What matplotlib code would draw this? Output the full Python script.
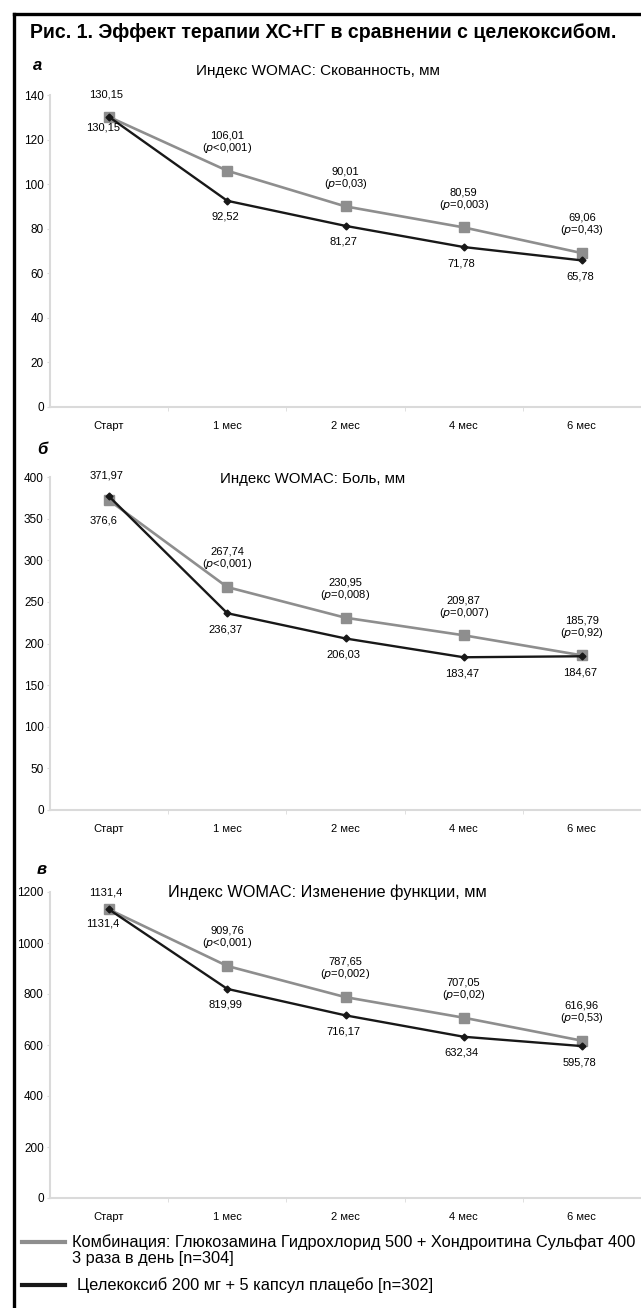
import matplotlib
matplotlib.use("Agg")
from matplotlib import pyplot as plt
from matplotlib.lines import Line2D

plt.rcParams['font.family'] = ['Liberation Sans', 'DejaVu Sans']

W, H = 641, 1308

categories = ['Старт', '1 мес', '2 мес', '4 мес', '6 мес']

# а: скованность
stiff_combo = [130.15, 106.01, 90.01, 80.59, 69.06]
stiff_celec = [130.15, 92.52, 81.27, 71.78, 65.78]
stiff_p = ['<0,001', '=0,03', '=0,003', '=0,43']

# б: боль
pain_combo = [371.97, 267.74, 230.95, 209.87, 185.79]
pain_celec = [376.6, 236.37, 206.03, 183.47, 184.67]
pain_p = ['<0,001', '=0,008', '=0,007', '=0,92']

# в: изменение функции
func_combo = [1131.4, 909.76, 787.65, 707.05, 616.96]
func_celec = [1131.4, 819.99, 716.17, 632.34, 595.78]
func_p = ['<0,001', '=0,002', '=0,02', '=0,53']

legend_combo = 'Комбинация: Глюкозамина Гидрохлорид 500 + Хондроитина Сульфат 400'
legend_combo2 = '3 раза в день [n=304]'
legend_celec = 'Целекоксиб 200 мг + 5 капсул плацебо [n=302]'

GRAY = '#8e8e8e'
DARK = '#181818'
AXC = '#dadada'


def px(x, y):
    # pixel position (from top left) -> figure fraction
    return x / W, 1 - y / H


def fmt(v):
    s = ('%.2f' % v).rstrip('0').rstrip('.')
    return s.replace('.', ',')


def fit(t, target):
    # scale font so that the text is target pixels wide
    r = fig.canvas.get_renderer()
    w = t.get_window_extent(r).width
    t.set_fontsize(t.get_fontsize() * target / w)


def panel(ax, combo, celec, pvals, ymax, step, up0, down0):
    x = range(len(categories))
    ax.plot(x, combo, color=GRAY, lw=1.9, marker='s', ms=6.5, zorder=2)
    ax.plot(x, celec, color=DARK, lw=1.7, marker='D', ms=3.5, zorder=3)
    ax.set_xlim(-0.5, 4.5)
    ax.set_ylim(0, ymax)
    ax.set_yticks(range(0, ymax + 1, step))
    ax.set_xticks(list(x))
    ax.set_xticklabels(categories)
    ax.set_xticks([0.5, 1.5, 2.5, 3.5], minor=True)
    ax.tick_params(axis='x', which='major', length=0, pad=10, labelsize=8)
    ax.tick_params(axis='x', which='minor', length=3, color=AXC)
    ax.tick_params(axis='y', length=2.5, color=AXC, labelsize=8.5, pad=2)
    for s in ['top', 'right']:
        ax.spines[s].set_visible(False)
    for s in ['left', 'bottom']:
        ax.spines[s].set_color(AXC)
        ax.spines[s].set_linewidth(1.5)

    top = max(combo[0], celec[0])
    low = min(combo[0], celec[0])
    ax.annotate(fmt(combo[0]), (0, top), xytext=(-3, up0), textcoords='offset pixels',
                ha='center', va='center', fontsize=8)
    ax.annotate(fmt(celec[0]), (0, low), xytext=(-6, -down0), textcoords='offset pixels',
                ha='center', va='center', fontsize=8)
    for i in range(1, len(categories)):
        ax.annotate(fmt(combo[i]) + '\n(' + r'$\it{p}$' + pvals[i - 1] + ')', (i, combo[i]),
                    xytext=(0, 28), textcoords='offset pixels',
                    ha='center', va='center', fontsize=8, linespacing=1.05)
        ax.annotate(fmt(celec[i]), (i, celec[i]), xytext=(-2, -16), textcoords='offset pixels',
                    ha='center', va='center', fontsize=8)


fig = plt.figure(figsize=(W / 100, H / 100), dpi=100)

ax1 = fig.add_axes([50 / W, 1 - 407 / H, 591 / W, 312 / H])
panel(ax1, stiff_combo, stiff_celec, stiff_p, 140, 20, 22, 11)

ax2 = fig.add_axes([50 / W, 1 - 810 / H, 591 / W, 333 / H])
panel(ax2, pain_combo, pain_celec, pain_p, 400, 50, 21, 20)

ax3 = fig.add_axes([50 / W, 1 - 1198 / H, 591 / W, 306 / H])
panel(ax3, func_combo, func_celec, func_p, 1200, 200, 17, 14)

# chart titles
t = fig.text(*px(318, 71), 'Индекс WOMAC: Скованность, мм', ha='center', va='center', fontsize=10)
fit(t, 245)
t = fig.text(*px(313, 479), 'Индекс WOMAC: Боль, мм', ha='center', va='center', fontsize=10)
fit(t, 186)
t = fig.text(*px(327, 892), 'Индекс WOMAC: Изменение функции, мм', ha='center', va='center',
             fontsize=10)
fit(t, 318)

# figure title and panel letters
t = fig.text(*px(30, 33), 'Рис. 1. Эффект терапии ХС+ГГ в сравнении с целекоксибом.',
             fontsize=13, fontweight='bold', va='center', ha='left')
fit(t, 588)
for lab, xp, yp in [('а', 33, 66), ('б', 37, 449), ('в', 37, 870)]:
    fig.text(*px(xp, yp), lab, fontsize=12, fontweight='bold', style='italic',
             va='center', ha='left')

# frame
fig.add_artist(Line2D([13.5 / W, 1], [1 - 13.5 / H] * 2, color='black', lw=2.4,
                      transform=fig.transFigure))
fig.add_artist(Line2D([13.5 / W] * 2, [0, 1 - 13.5 / H], color='black', lw=2.4,
                      transform=fig.transFigure))

# legend
fig.add_artist(Line2D([22 / W, 65 / W], [1 - 1242 / H] * 2, color=GRAY, lw=3,
                      transform=fig.transFigure))
t1 = fig.text(*px(72, 1242), legend_combo, fontsize=11, va='center', ha='left')
fit(t1, 560)
fig.text(*px(72, 1259), legend_combo2, fontsize=t1.get_fontsize(), va='center', ha='left')
fig.add_artist(Line2D([22 / W, 65 / W], [1 - 1285 / H] * 2, color=DARK, lw=3,
                      transform=fig.transFigure))
fig.text(*px(77, 1285), legend_celec, fontsize=t1.get_fontsize(), va='center', ha='left')

fig.savefig('out.png', dpi=100)
